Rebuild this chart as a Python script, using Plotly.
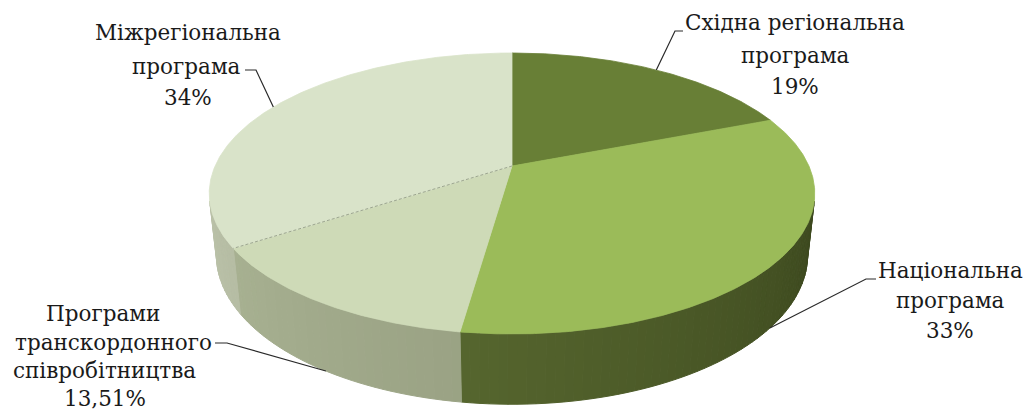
import numpy as np
import plotly.graph_objects as go

# ---------------- data ----------------
categories = ["Східна регіональна програма", "Національна програма",
              "Програми транскордонного співробітництва", "Міжрегіональна програма"]
values = [19, 33, 13.51, 34]
value_labels = ["19%", "33%", "13,51%", "34%"]
label_lines = [
    ["Східна регіональна", "програма", "19%"],
    ["Національна", "програма", "33%"],
    ["Програми", "транскордонного", "співробітництва", "13,51%"],
    ["Міжрегіональна", "програма", "34%"],
]

# ---------------- style ----------------
top_colors = ["#687F36", "#9BBB59", "#CEDAB7", "#D9E3C9"]
side_dark = [(70, 86, 36), (60, 72, 30), (132, 138, 110), (150, 157, 132)]
side_light = [(110, 130, 62), (106, 125, 59), (172, 182, 150), (186, 193, 168)]
text_color = "#1a1a1a"
FONT = "DejaVu Serif"
FSIZE = 21.5

# label placement (pixel space): list of (x, y) for each line
label_pos = [
    [(795, 22), (795, 55), (795, 86)],
    [(950, 270), (950, 300), (950, 330)],
    [(103, 313), (113, 342), (104, 370), (105, 398)],
    [(188, 32), (186, 66), (188, 97)],
]
leader_start = [[(683, 31), (675, 31)],
                [(876, 279), (866, 279)],
                [(215, 343), (227, 343)],
                [(245, 70), (256, 70)]]

# ---------------- projection geometry ----------------
W, Hh = 1029, 414
CX, CY = 512.0, 166.0
F, DIST = 1351.0, 4.55
S = 0.455
C = np.sqrt(1 - S * S)
DEPTH_H = 0.235


def proj(theta, z=0.0):
    th = np.radians(theta)
    X, Y = np.sin(th), np.cos(th)
    depth = DIST + Y * C - z * S
    return CX + F * X / depth, CY - F * (Y * S + z * C) / depth


total = float(np.sum(values))
fracs = np.array(values) / total
ends = 360.0 * np.cumsum(fracs)
starts = ends - 360.0 * fracs

vis_lo = np.degrees(np.arccos(-1.0 / (DIST * C)))
vis_hi = 360.0 - vis_lo

fig = go.Figure()


def mix(c0, c1, t):
    t = min(max(t, 0.0), 1.0)
    return "rgb(%d,%d,%d)" % tuple(int(round(a + (b - a) * t)) for a, b in zip(c0, c1))


# side walls
for i in range(len(values)):
    a, b = max(starts[i], vis_lo), min(ends[i], vis_hi)
    if a >= b:
        continue
    n = int(np.ceil((b - a) / 1.5))
    edges = np.linspace(a, b, n + 1)
    for k in range(n):
        t0, t1 = edges[k], edges[k + 1]
        ang = np.linspace(t0, t1, 4)
        xt, yt = proj(ang, 0.0)
        xb, yb = proj(ang[::-1], -DEPTH_H)
        xs = np.concatenate([xt, xb, xt[:1]])
        ys = np.concatenate([yt, yb, yt[:1]])
        col = mix(side_dark[i], side_light[i], ((t0 + t1) / 2 - vis_lo) / (vis_hi - vis_lo))
        fig.add_trace(go.Scatter(x=xs, y=ys, mode="lines", fill="toself",
                                 fillcolor=col, line=dict(color=col, width=1),
                                 hoverinfo="skip", showlegend=False))

# top faces
for i in range(len(values)):
    ang = np.linspace(starts[i], ends[i], max(int((ends[i] - starts[i]) * 2), 4))
    xa, ya = proj(ang, 0.0)
    xs = np.concatenate([[CX], xa, [CX]])
    ys = np.concatenate([[CY], ya, [CY]])
    fig.add_trace(go.Scatter(x=xs, y=ys, mode="lines", fill="toself",
                             fillcolor=top_colors[i],
                             line=dict(color=top_colors[i], width=0.8),
                             name=categories[i], hoverinfo="name", showlegend=False))

# dashed boundary between last two slices on top
bx, by = proj(ends[2], 0.0)
fig.add_trace(go.Scatter(x=[CX, bx], y=[CY, by], mode="lines",
                         line=dict(color="rgba(150,158,138,0.9)", width=1, dash="3px,2px"),
                         hoverinfo="skip", showlegend=False))

# leader lines
for i in range(len(values)):
    mid = (starts[i] + ends[i]) / 2
    front = np.cos(np.radians(mid)) < 0
    ax, ay = proj(mid, -DEPTH_H if front else 0.0)
    pts = leader_start[i] + [(ax, ay)]
    fig.add_trace(go.Scatter(x=[p[0] for p in pts], y=[p[1] for p in pts], mode="lines",
                             line=dict(color="#2a2a2a", width=1.2),
                             hoverinfo="skip", showlegend=False))

# labels
for i in range(len(values)):
    for line, (lx, ly) in zip(label_lines[i], label_pos[i]):
        fig.add_annotation(x=lx, y=ly, xref="x", yref="y", text=line, showarrow=False,
                           xanchor="center", yanchor="middle",
                           font=dict(family=FONT, size=FSIZE, color=text_color))

fig.update_layout(
    width=W, height=Hh, margin=dict(l=0, r=0, t=0, b=0),
    paper_bgcolor="white", plot_bgcolor="white",
    xaxis=dict(range=[0, W], visible=False, fixedrange=True),
    yaxis=dict(range=[Hh, 0], visible=False, fixedrange=True),
    showlegend=False,
)
fig.write_html("out.html")
